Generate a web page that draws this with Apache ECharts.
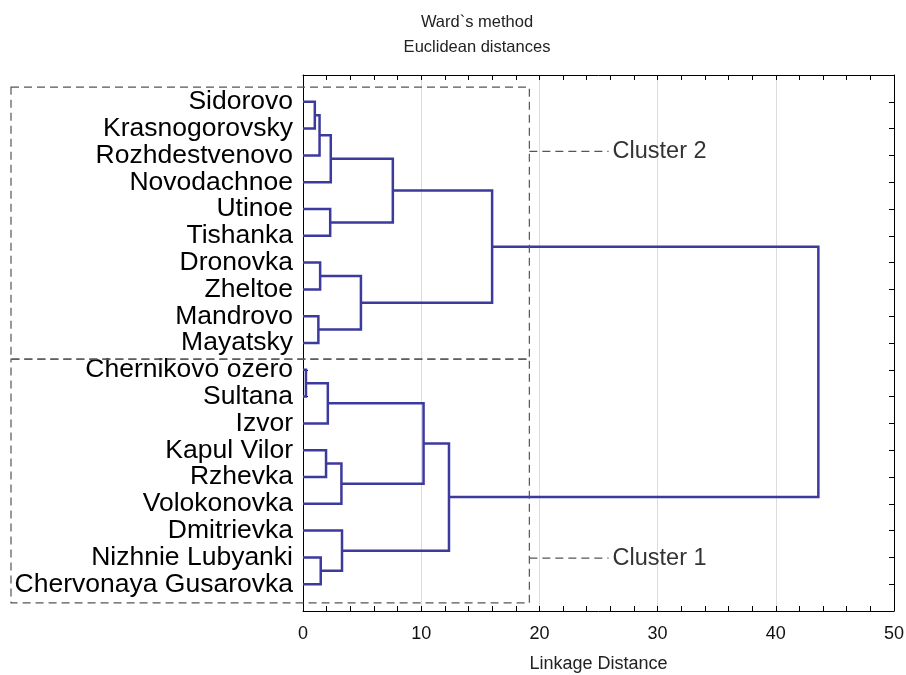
<!DOCTYPE html>
<html>
<head>
<meta charset="utf-8">
<script src="https://cdn.jsdelivr.net/npm/echarts@6/dist/echarts.min.js"></script>
<style>
  html, body { margin: 0; padding: 0; background: #fff; }
  #main { width: 906px; height: 675px; }
</style>
</head>
<body>
<div id="main"></div>
<script>
// leaves, top to bottom
const leaves = [
  'Sidorovo', 'Krasnogorovsky', 'Rozhdestvenovo', 'Novodachnoe', 'Utinoe',
  'Tishanka', 'Dronovka', 'Zheltoe', 'Mandrovo', 'Mayatsky',
  'Chernikovo ozero', 'Sultana', 'Izvor', 'Kapul Vilor', 'Rzhevka',
  'Volokonovka', 'Dmitrievka', 'Nizhnie Lubyanki', 'Chervonaya Gusarovka'
];
// merges: node 19 + i joins mergeA[i] and mergeB[i] at mergeDist[i]
const mergeA = [0, 19, 20, 4, 21, 6, 8, 24, 23, 10, 28, 13, 30, 29, 17, 16, 32, 27];
const mergeB = [1, 2, 3, 5, 22, 7, 9, 25, 26, 11, 12, 14, 15, 31, 18, 33, 34, 35];
const mergeDist = [1.0, 1.4, 2.35, 2.3, 7.6, 1.45, 1.3, 4.9, 16.0,
                   0.25, 2.1, 1.95, 3.25, 10.2, 1.5, 3.3, 12.35, 43.6];
// cluster boxes (y in leaf-axis units, right edge in distance units)
const clusterNames = ['Cluster 2', 'Cluster 1'];
const clusterTop = [0.45, 10.6];
const clusterBottom = [10.6, 19.7];
const clusterLabelY = [2.85, 18.03];
const clusterRight = 19.15;
const leaderEnd = 25.85;

// node positions: height and y
const nodeH = leaves.map(() => 0);
const nodeY = leaves.map((n, i) => i + 1);
const links = [];
for (let i = 0; i < mergeA.length; i++) {
  const a = mergeA[i], b = mergeB[i];
  links.push([nodeH[a], nodeY[a], nodeH[b], nodeY[b], mergeDist[i]]);
  nodeH.push(mergeDist[i]);
  nodeY.push((nodeY[a] + nodeY[b]) / 2);
}

const chart = echarts.init(document.getElementById('main'));
const lineColor = '#3d3a9e';
const tick = { show: true, inside: true, length: 5, lineStyle: { color: '#000' } };

const option = {
  animation: false,
  title: {
    text: 'Ward`s method\nEuclidean distances',
    left: 472,
    top: 5,
    textAlign: 'center',
    textStyle: { fontFamily: 'Liberation Sans', fontSize: 16.5, fontWeight: 'normal', color: '#222', lineHeight: 25 }
  },
  grid: { left: 303, right: 12, top: 75, bottom: 64, outerBoundsMode: 'none', containLabel: false },
  xAxis: [{
    type: 'value', min: 0, max: 50, interval: 10,
    name: 'Linkage Distance', nameLocation: 'middle', nameGap: 44,
    nameTextStyle: { fontFamily: 'Liberation Sans', fontSize: 18, color: '#222' },
    axisLine: { show: true, onZero: false, lineStyle: { color: '#000', width: 1 } },
    axisTick: tick,
    minorTick: { show: true, splitNumber: 5, length: 5, lineStyle: { color: '#000' } },
    axisLabel: { fontFamily: 'Liberation Sans', fontSize: 18, color: '#111', margin: 14 },
    splitLine: { show: true, lineStyle: { color: '#dcdcdc', width: 1 } }
  }, {
    type: 'value', position: 'top', min: 0, max: 50, interval: 10,
    axisLine: { show: true, onZero: false, lineStyle: { color: '#000', width: 1 } },
    axisTick: tick,
    minorTick: { show: true, splitNumber: 5, length: 5, lineStyle: { color: '#000' } },
    axisLabel: { show: false },
    splitLine: { show: false }
  }],
  yAxis: [{
    type: 'value', min: 0, max: 20, interval: 1, inverse: true,
    axisLine: { show: true, onZero: false, lineStyle: { color: '#000', width: 1 } },
    axisTick: tick,
    axisLabel: {
      fontFamily: 'Liberation Sans', fontSize: 26.5, color: '#000', margin: 10,
      formatter: v => leaves[v - 1] || ''
    },
    splitLine: { show: false }
  }, {
    type: 'value', position: 'right', min: 0, max: 20, interval: 1, inverse: true,
    axisLine: { show: true, onZero: false, lineStyle: { color: '#000', width: 1 } },
    axisTick: tick,
    axisLabel: { show: false },
    splitLine: { show: false }
  }],
  series: [{
    type: 'custom',
    name: 'dendrogram',
    xAxisIndex: 0, yAxisIndex: 0,
    data: links,
    renderItem: function (params, api) {
      const p1 = api.coord([api.value(0), api.value(1)]);
      const p2 = api.coord([api.value(4), api.value(1)]);
      const p3 = api.coord([api.value(4), api.value(3)]);
      const p4 = api.coord([api.value(2), api.value(3)]);
      return {
        type: 'polyline',
        shape: { points: [p1, p2, p3, p4] },
        style: { stroke: lineColor, lineWidth: 2.5, fill: null }
      };
    }
  }, {
    type: 'custom',
    name: 'clusters',
    xAxisIndex: 0, yAxisIndex: 0,
    clip: false,
    silent: true,
    data: clusterNames.map((n, i) => [i, clusterTop[i], clusterBottom[i], clusterLabelY[i]]),
    renderItem: function (params, api) {
      const i = api.value(0);
      const tl = api.coord([clusterRight, api.value(1)]);
      const br = api.coord([clusterRight, api.value(2)]);
      const ly = api.coord([clusterRight, api.value(3)]);
      const le = api.coord([leaderEnd, api.value(3)]);
      const left = 11;
      const dash = { stroke: '#555', lineWidth: 1.2, lineDash: [8, 5], fill: null };
      return {
        type: 'group',
        children: [{
          type: 'rect',
          shape: { x: left, y: tl[1], width: tl[0] - left, height: br[1] - tl[1] },
          style: dash
        }, {
          type: 'line',
          shape: { x1: ly[0], y1: ly[1], x2: le[0], y2: ly[1] },
          style: { stroke: '#555', lineWidth: 1.2, lineDash: [8, 5] }
        }, {
          type: 'text',
          x: le[0] + 4, y: ly[1],
          style: {
            text: clusterNames[i], fill: '#333',
            font: '23.5px "Liberation Sans"',
            verticalAlign: 'middle', align: 'left'
          }
        }]
      };
    }
  }]
};

chart.setOption(option);
window.addEventListener('resize', function () {
  chart.resize();
});
</script>
</body>
</html>
